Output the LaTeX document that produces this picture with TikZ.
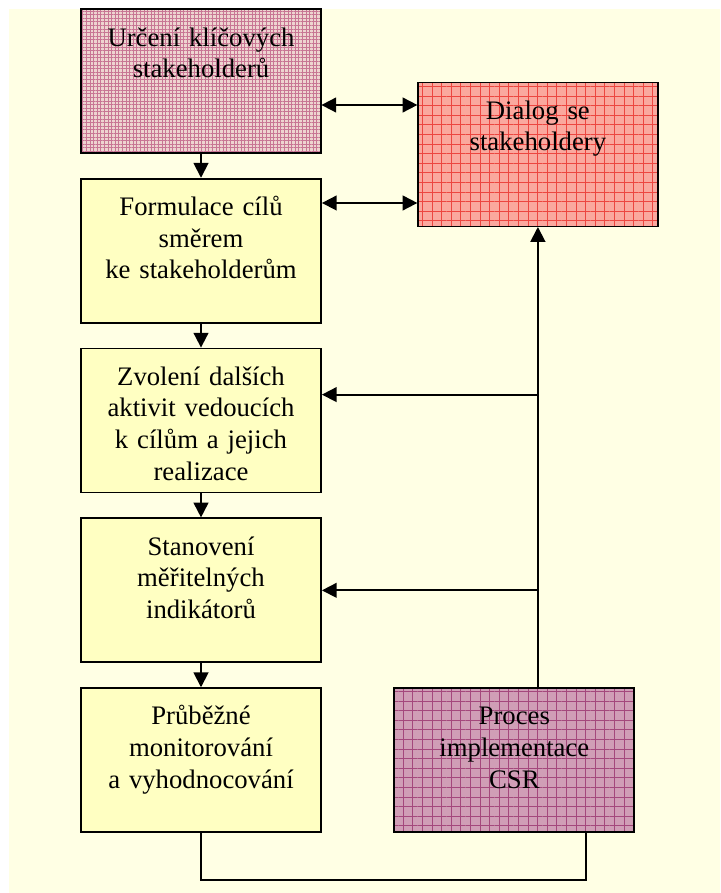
\documentclass[tikz,border=0pt]{standalone}
\usepackage{fontspec}
\setmainfont{Liberation Serif}
\usepackage{tikz}
\usetikzlibrary{positioning,calc,arrows.meta,patterns.meta}

\definecolor{paleyellow}{RGB}{255,255,228}
\definecolor{boxyellow}{RGB}{255,255,194}
\definecolor{mauve}{RGB}{238,212,208}
\definecolor{mauvegrid}{RGB}{200,118,148}
\definecolor{salmon}{RGB}{250,168,158}
\definecolor{salmongrid}{RGB}{236,70,64}
\definecolor{plum}{RGB}{208,158,182}
\definecolor{plumgrid}{RGB}{164,72,124}

\tikzset{
  box/.style={draw, line width=1.3pt, text width=6cm, align=center, inner sep=0pt,
              text height=0.92cm, text depth=2.68cm,
              font=\fontsize{19}{22.5}\selectfont},
  yellowbox/.style={box, fill=boxyellow},
  pinkbox/.style={box, preaction={fill=mauve},
                  pattern={Hatch[distance=0.09cm,line width=0.55pt]}, pattern color=mauvegrid},
  redbox/.style={box, preaction={fill=salmon},
                 pattern={Hatch[distance=0.24cm,line width=0.7pt]}, pattern color=salmongrid},
  plumbox/.style={box, preaction={fill=plum},
                  pattern={Hatch[distance=0.24cm,line width=0.6pt]}, pattern color=plumgrid},
  link/.style={line width=1.3pt},
  arrow/.style={link, -{Triangle[length=0.37cm,width=0.37cm]}},
  dblarrow/.style={link, {Triangle[length=0.37cm,width=0.37cm]}-{Triangle[length=0.37cm,width=0.37cm]}}
}

\begin{document}
\begin{tikzpicture}
  % page and backdrop
  \useasboundingbox (0,0) rectangle (18,-22.325);
  \fill[paleyellow] (0.225,-0.225) rectangle (18,-22.325);

  % left column
  \node[pinkbox, anchor=north] (b1) at (5.025,-0.225) {Určení klíčových\\stakeholderů};
  \node[yellowbox, below=0.6cm of b1] (b2) {Formulace cílů\\směrem\\ke stakeholderům};
  \node[yellowbox, below=0.6cm of b2] (b3) {Zvolení dalších\\aktivit vedoucích\\k cílům a jejich\\realizace};
  \node[yellowbox, below=0.6cm of b3] (b4) {Stanovení\\měřitelných\\indikátorů};
  \node[yellowbox, below=0.6cm of b4] (b5) {Průběžné\\monitorování\\a vyhodnocování};

  % right column
  \node[redbox, below right=1.825cm and 2.4cm of b1.north east] (dialog) {Dialog se\\stakeholdery};
  \node[plumbox, right=1.8cm of b5] (proces) {Proces\\implementace\\CSR};

  % connectors
  \foreach \a/\b in {b1/b2,b2/b3,b3/b4,b4/b5}
    \draw[arrow] (\a) -- (\b);

  \coordinate (d1) at ([yshift=-0.575cm]dialog.north west);
  \coordinate (d2) at ([yshift=0.6cm]dialog.south west);
  \draw[dblarrow] (b1.east |- d1) -- (d1);
  \draw[dblarrow] (b2.east |- d2) -- (d2);

  \draw[arrow] (dialog.south |- proces.north) -- (dialog.south);
  \coordinate (t3) at ([yshift=-1.175cm]b3.north east);
  \draw[arrow] (dialog.south |- t3) -- (t3);
  \draw[arrow] (dialog.south |- b4.east) -- (b4.east);

  \coordinate (foot) at ([yshift=-1.175cm]b5.south);
  \draw[link] (b5.south) -- (foot) -| ([xshift=1.8cm]proces.south);
\end{tikzpicture}
\end{document}
